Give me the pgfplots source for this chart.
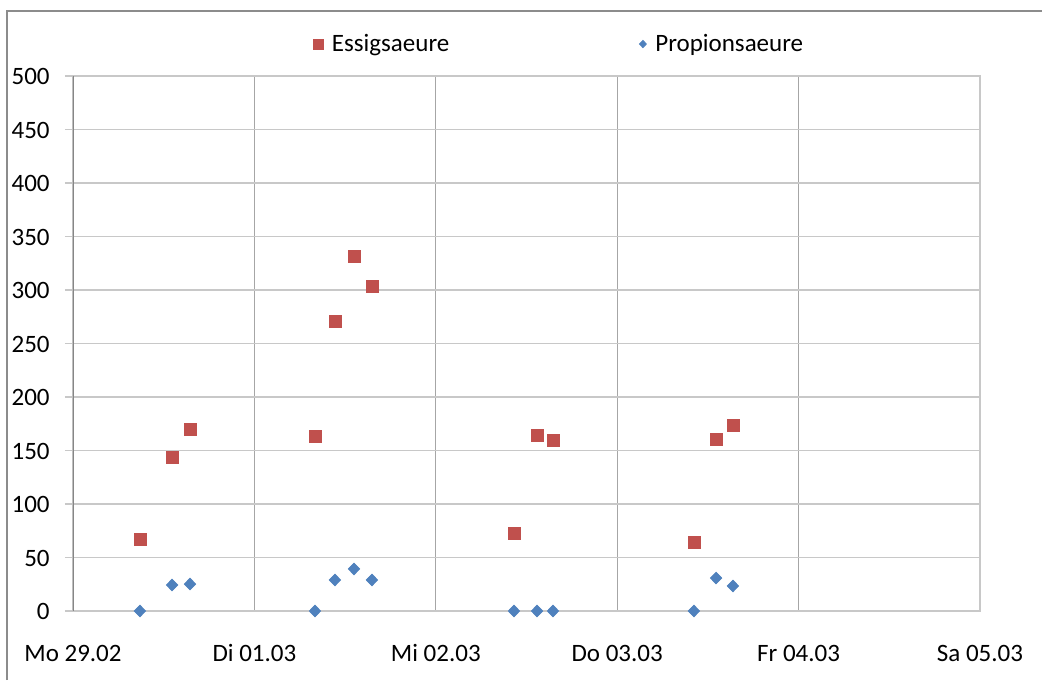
\documentclass[border=0pt]{standalone}
\usepackage{pgfplots}
\pgfplotsset{compat=1.18}
\usepackage{fontspec}
\setmainfont{Carlito}
\definecolor{essig}{HTML}{C0504D}
\definecolor{propion}{HTML}{4F81BD}
\definecolor{hgrid}{HTML}{C8C8C8}
\definecolor{vgrid}{HTML}{A6A6A6}
\definecolor{axisgray}{HTML}{868686}

% measurements (days since Mo 29.02, 00:00)
\pgfplotstableread{
x      y
0.369  67.3
0.546  144.0
0.645  170.0
1.334  163.6
1.444  271.0
1.549  331.0
1.648  303.7
2.431  72.9
2.558  164.5
2.646  159.0
3.423  64.5
3.545  160.7
3.638  173.8
}\essigsaeure

\pgfplotstableread{
x      y
0.369  0
0.546  24.3
0.645  25.2
1.334  0
1.444  29.0
1.549  39.3
1.648  29.0
2.431  0
2.558  0
2.646  0
3.423  0
3.545  30.8
3.638  23.4
}\propionsaeure

\begin{document}
\begin{tikzpicture}[font=\fontsize{12.5pt}{15pt}\selectfont]
\useasboundingbox (-36.5pt,-34.5pt) rectangle (484.5pt,305.5pt);
\draw[black!45, line width=0.6pt] (-33pt,-34.5pt) -- (-33pt,300pt) -- (484.5pt,300pt);
\begin{axis}[
  scale only axis,
  width=453.5pt, height=267.5pt,
  xmin=0, xmax=5, ymin=0, ymax=500,
  xtick={0,1,2,3,4,5},
  xticklabels={Mo 29.02, Di 01.03, Mi 02.03, Do 03.03, Fr 04.03, Sa 05.03},
  ytick={0,50,...,500},
  /pgf/number format/assume math mode=true,
  yticklabel={\pgfmathprintnumber[assume math mode=true]{\tick}},
  xticklabel style={anchor=base, inner sep=0pt, yshift=-21pt},
  yticklabel style={anchor=base east, inner sep=0pt, xshift=-7.5pt, yshift=-4.3pt},
  tick align=outside,
  ytick pos=left,
  xtick style={draw=none},
  ytick style={draw=hgrid, line width=0.8pt},
  major tick length=4pt,
  grid=major,
  x grid style={vgrid, line width=0.5pt},
  y grid style={hgrid, line width=0.8pt},
  axis line style={draw=hgrid, line width=0.8pt},
  legend columns=2,
  legend style={draw=none, fill=none, at={(0.537,1.0598)}, anchor=center,
    font=\fontsize{12.5pt}{15pt}\selectfont,
    /tikz/column 1/.style={column sep=2.5pt},
    /tikz/column 2/.style={column sep=93pt},
    /tikz/column 3/.style={column sep=2.5pt}},
  legend cell align=left,
]
\addplot[only marks, mark=square*, mark size=3pt, color=essig, forget plot]
  table[x=x, y=y] {\essigsaeure};
\addplot[only marks, mark=diamond*, mark size=2.9pt, mark options={xscale=1.3}, color=propion, forget plot]
  table[x=x, y=y] {\propionsaeure};
\addlegendimage{only marks, mark=square*, mark size=2.5pt, color=essig}
\addlegendentry{Essigsaeure}
\addlegendimage{only marks, mark=diamond*, mark size=1.8pt, mark options={xscale=1.3}, color=propion}
\addlegendentry{Propionsaeure}
\draw[axisgray, line width=0.8pt] (rel axis cs:0,0) -- (rel axis cs:0,1);
\end{axis}
\end{tikzpicture}
\end{document}
